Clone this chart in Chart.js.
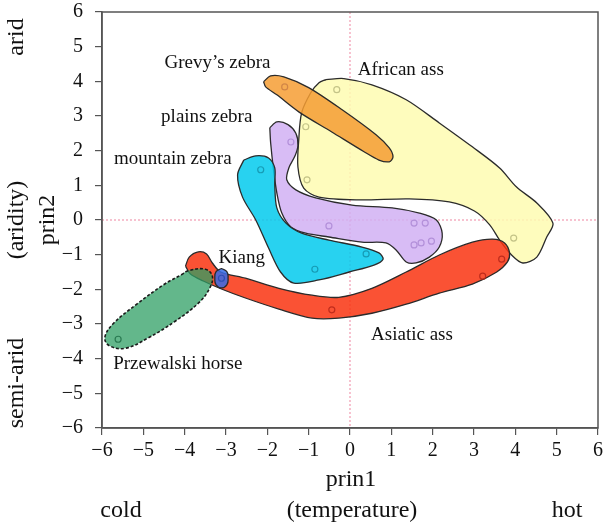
<!DOCTYPE html>
<html>
<head>
<meta charset="utf-8">
<script src="https://cdn.jsdelivr.net/npm/chart.js@4.4.1/dist/chart.umd.min.js"></script>
<style>
  html, body { margin: 0; padding: 0; background: #fff; }
  #wrap { width: 612px; height: 525px; }
</style>
</head>
<body>
<div id="wrap"><canvas id="chart" width="612" height="525"></canvas></div>
<script>
// ========== DATA ==========
const tickValues = [-6, -5, -4, -3, -2, -1, 0, 1, 2, 3, 4, 5, 6];

// outlines of each species range, [prin1, prin2]
const africanAss = [
  [-0.58, 4.05], [-0.15, 4.08], [0.53, 3.90], [1.36, 3.47], [2.16, 2.80], [2.96, 2.11],
  [3.62, 1.50], [4.03, 0.95], [4.52, 0.49], [4.91, -0.09], [4.76, -0.49], [4.52, -1.07],
  [4.18, -1.24], [3.91, -1.01], [3.62, -0.58], [3.38, -0.14], [3.01, 0.26], [2.40, 0.52],
  [1.43, 0.61], [0.22, 0.58], [-0.75, 0.66], [-1.12, 0.92], [-1.26, 1.53], [-1.24, 2.31],
  [-1.17, 3.09], [-0.95, 3.67], [-0.75, 3.96]
];
const grevysZebra = [
  [-2.09, 3.99], [-1.92, 4.16], [-1.60, 4.13], [-1.00, 3.82], [-0.19, 3.18], [0.63, 2.46],
  [0.95, 2.08], [1.04, 1.82], [0.95, 1.68], [0.70, 1.73], [0.34, 1.97], [-0.44, 2.54],
  [-1.24, 3.12], [-1.77, 3.61], [-2.04, 3.84]
];
const plainsZebra = [
  [-1.94, 2.66], [-1.77, 2.83], [-1.50, 2.75], [-1.31, 2.50], [-1.26, 2.15], [-1.33, 1.85],
  [-1.48, 1.50], [-1.53, 1.16], [-1.31, 0.87], [-0.83, 0.64], [0.05, 0.43], [1.02, 0.35],
  [1.68, 0.20], [2.09, 0.00], [2.23, -0.38], [2.16, -0.78], [1.92, -1.07], [1.60, -1.24],
  [1.36, -1.21], [1.12, -0.87], [0.87, -0.66], [0.29, -0.64], [-0.51, -0.49], [-1.07, -0.38],
  [-1.43, -0.20], [-1.65, 0.20], [-1.77, 0.78], [-1.85, 1.45], [-1.92, 2.23]
];
const mountainZebra = [
  [-2.57, 1.73], [-2.28, 1.85], [-1.97, 1.79], [-1.82, 1.50], [-1.82, 1.01], [-1.77, 0.35],
  [-1.55, -0.09], [-1.17, -0.38], [-0.51, -0.58], [0.29, -0.78], [0.70, -0.95], [0.80, -1.13],
  [0.58, -1.30], [-0.02, -1.50], [-0.75, -1.73], [-1.36, -1.82], [-1.68, -1.50], [-1.97, -0.81],
  [-2.28, 0.00], [-2.60, 0.66], [-2.72, 1.30]
];
const asiaticAss = [
  [-3.98, -1.33], [-3.89, -1.07], [-3.67, -0.92], [-3.47, -0.98], [-3.33, -1.24], [-3.13, -1.50],
  [-2.53, -1.68], [-1.72, -1.97], [-0.92, -2.17], [-0.27, -2.23], [0.53, -1.97], [1.36, -1.50],
  [2.16, -1.01], [2.96, -0.64], [3.45, -0.55], [3.74, -0.66], [3.86, -0.95], [3.81, -1.21],
  [3.55, -1.50], [2.96, -1.85], [2.16, -2.11], [1.36, -2.43], [0.53, -2.69], [-0.27, -2.83],
  [-0.92, -2.83], [-1.72, -2.57], [-2.53, -2.25], [-3.11, -1.99], [-3.55, -1.76], [-3.86, -1.56]
];
const przewalskiHorse = [
  [-4.08, -1.58], [-3.91, -1.46], [-3.50, -1.42], [-3.33, -1.62], [-3.40, -1.98], [-3.67, -2.40],
  [-4.23, -2.92], [-4.88, -3.40], [-5.44, -3.70], [-5.83, -3.62], [-5.93, -3.38], [-5.72, -2.98],
  [-5.15, -2.42], [-4.50, -1.86]
];
const kiang = [
  [-3.11, -1.40], [-2.98, -1.49], [-2.95, -1.68], [-2.98, -1.87], [-3.11, -1.96],
  [-3.24, -1.87], [-3.27, -1.68], [-3.24, -1.49]
];

// observed scores
const africanAssPts = [[-0.32, 3.76], [-1.07, 2.69], [-1.04, 1.16], [3.96, -0.52]];
const grevysZebraPts = [[-1.58, 3.84]];
const plainsZebraPts = [[-1.43, 2.25], [-0.51, -0.17], [1.55, -0.09], [1.82, -0.09], [1.55, -0.72], [1.72, -0.66], [1.97, -0.61]];
const mountainZebraPts = [[-2.16, 1.45], [-0.85, -1.42], [0.39, -0.98]];
const asiaticAssPts = [[-0.44, -2.59], [3.21, -1.62], [3.67, -1.13]];
const kiangPts = [[-3.11, -1.68]];
const przewalskiPts = [[-5.61, -3.44]];

const speciesLabels = ['Grevy\u2019s zebra', 'plains zebra', 'mountain zebra', 'African ass', 'Kiang', 'Przewalski horse', 'Asiatic ass'];
const labelAnchors = [[-4.49, 4.54], [-4.57, 2.98], [-5.71, 1.76], [0.19, 4.34], [-3.18, -1.10], [-5.73, -4.16], [0.51, -3.32]];

// ========== HELPERS ==========
const SERIF = "'Liberation Serif', 'Times New Roman', serif";
const toXY = arr => arr.map(p => ({ x: p[0], y: p[1] }));
const closed = arr => toXY(arr.concat([arr[0]]));

function shape(label, outline, fillColor, order, extra) {
  return Object.assign({
    type: 'line',
    label,
    data: closed(outline),
    showLine: true,
    fill: 'shape',
    backgroundColor: fillColor,
    borderColor: '#2b2b2b',
    borderWidth: 1.3,
    pointRadius: 0,
    tension: 0.3,
    order
  }, extra || {});
}

function dots(label, pts, color) {
  return {
    type: 'scatter',
    label,
    data: toXY(pts),
    pointRadius: 3,
    pointBorderWidth: 1.2,
    pointBackgroundColor: 'rgba(0,0,0,0)',
    pointBorderColor: color,
    order: 1
  };
}

// ========== PLUGINS ==========
const framePlugin = {
  id: 'frame',
  beforeDatasetsDraw(chart) {
    const { ctx, chartArea: a, scales: { x, y } } = chart;
    ctx.save();
    ctx.strokeStyle = 'rgba(236,120,150,0.9)';
    ctx.lineWidth = 1;
    ctx.setLineDash([2, 2]);
    ctx.beginPath();
    ctx.moveTo(x.getPixelForValue(0), a.top);
    ctx.lineTo(x.getPixelForValue(0), a.bottom);
    ctx.moveTo(a.left, y.getPixelForValue(0));
    ctx.lineTo(a.right, y.getPixelForValue(0));
    ctx.stroke();
    ctx.restore();
  },
  afterDraw(chart) {
    const { ctx, chartArea: a } = chart;
    ctx.save();
    ctx.strokeStyle = '#555';
    ctx.lineWidth = 1.5;
    ctx.strokeRect(a.left, a.top, a.right - a.left, a.bottom - a.top);
    ctx.restore();
  }
};

const textPlugin = {
  id: 'texts',
  afterDraw(chart) {
    const { ctx, scales: { x, y } } = chart;
    ctx.save();
    ctx.fillStyle = '#111';
    ctx.textBaseline = 'middle';

    // species names
    ctx.font = '19px ' + SERIF;
    ctx.textAlign = 'left';
    speciesLabels.forEach((t, i) => {
      ctx.fillText(t, x.getPixelForValue(labelAnchors[i][0]), y.getPixelForValue(labelAnchors[i][1]));
    });

    // axis titles
    ctx.font = '24px ' + SERIF;
    ctx.textAlign = 'center';
    ctx.fillText('prin1', 351, 480);
    ctx.fillText('(temperature)', 352, 511);
    ctx.fillText('cold', 121, 511);
    ctx.fillText('hot', 567, 511);

    const vtext = (t, cx, cy) => {
      ctx.save();
      ctx.translate(cx, cy);
      ctx.rotate(-Math.PI / 2);
      ctx.fillText(t, 0, 0);
      ctx.restore();
    };
    vtext('arid', 17, 37);
    vtext('(aridity)', 17, 220);
    vtext('prin2', 48, 220);
    vtext('semi-arid', 17, 383);
    ctx.restore();
  }
};

// ========== CHART ==========
function axis(fit, pad) {
  return {
    type: 'linear',
    min: -6,
    max: 6,
    afterBuildTicks: scale => { scale.ticks = tickValues.map(v => ({ value: v })); },
    afterFit: scale => {
      fit(scale);
      scale.paddingTop = 0;
      scale.paddingBottom = 0;
      scale.paddingLeft = 0;
      scale.paddingRight = 0;
    },
    ticks: {
      autoSkip: false,
      padding: pad,
      color: '#111',
      font: { family: SERIF, size: 20 },
      callback: v => String(v).replace('-', '\u2212')
    },
    grid: { drawOnChartArea: false, drawTicks: true, tickLength: 7, color: '#555', lineWidth: 1.2 },
    border: { color: '#555', width: 1.5 }
  };
}

new Chart(document.getElementById('chart').getContext('2d'), {
  type: 'scatter',
  data: {
    datasets: [
      dots('African ass pts', africanAssPts, 'rgba(190,190,130,0.9)'),
      dots('Grevy pts', grevysZebraPts, 'rgba(205,130,70,0.9)'),
      dots('plains pts', plainsZebraPts, 'rgba(175,140,215,0.9)'),
      dots('mountain pts', mountainZebraPts, 'rgba(20,150,175,0.9)'),
      dots('Asiatic pts', asiaticAssPts, 'rgba(185,40,25,0.9)'),
      dots('Kiang pts', kiangPts, 'rgba(40,75,180,0.9)'),
      dots('Przewalski pts', przewalskiPts, 'rgba(35,115,75,0.9)'),
      shape('African ass', africanAss, 'rgba(254,251,178,0.85)', 10),
      shape('plains zebra', plainsZebra, 'rgba(209,176,243,0.85)', 9),
      shape('mountain zebra', mountainZebra, 'rgba(2,202,237,0.85)', 8),
      shape('Grevy\u2019s zebra', grevysZebra, 'rgba(246,157,52,0.85)', 7),
      shape('Asiatic ass', asiaticAss, 'rgba(249,52,16,0.85)', 6),
      shape('Przewalski horse', przewalskiHorse, 'rgba(47,159,100,0.75)', 5, { borderDash: [3, 2], borderWidth: 1.6, borderColor: '#1a1a1a', tension: 0.4 }),
      shape('Kiang', kiang, 'rgba(55,108,232,0.85)', 4, { tension: 0.5 })
    ]
  },
  options: {
    responsive: false,
    animation: false,
    layout: { padding: { top: 12, right: 14, left: 0, bottom: 0 } },
    plugins: {
      legend: { display: false },
      tooltip: { enabled: false }
    },
    scales: {
      x: axis(scale => { scale.height = 97; }, 4),
      y: axis(scale => { scale.width = 102; }, 12)
    }
  },
  plugins: [framePlugin, textPlugin]
});
</script>
</body>
</html>
